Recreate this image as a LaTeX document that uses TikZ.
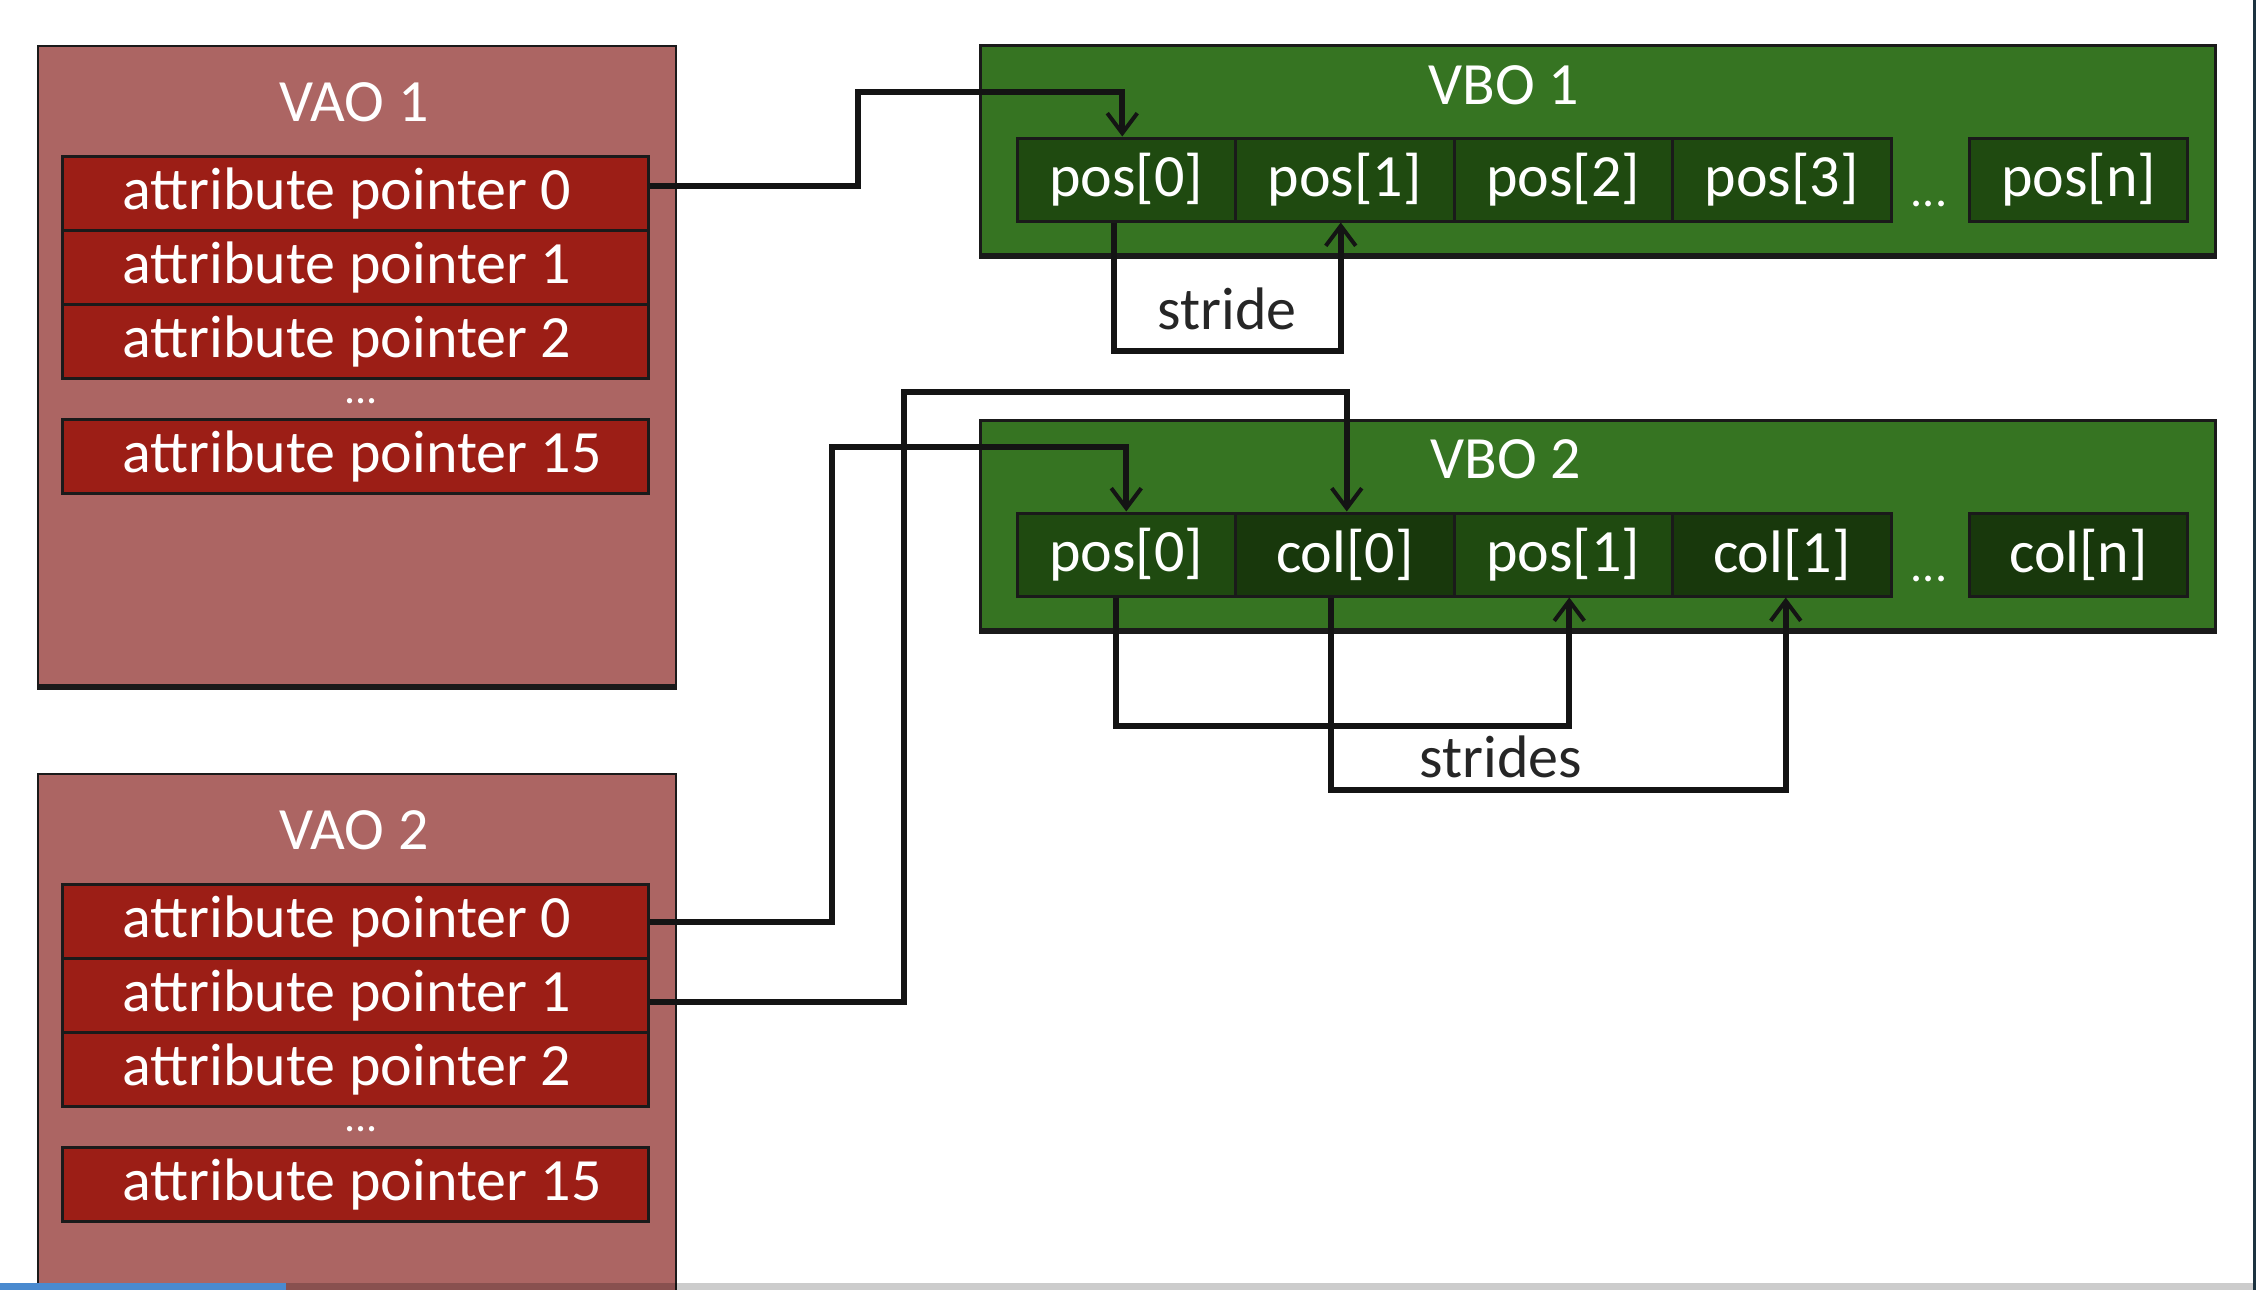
\documentclass[tikz,border=0pt]{standalone}
\usepackage{fontspec}
\setmainfont{Carlito}
\usetikzlibrary{arrows.meta,calc}
\definecolor{vaobg}{RGB}{172,101,99}
\definecolor{attrred}{RGB}{156,30,22}
\definecolor{vbogreen}{RGB}{54,116,34}
\definecolor{poscell}{RGB}{31,74,16}
\definecolor{colcell}{RGB}{24,56,12}
\definecolor{bord}{RGB}{26,26,26}
\definecolor{connc}{RGB}{20,20,20}
\definecolor{barblue}{RGB}{74,138,207}
\definecolor{edgedark}{RGB}{28,51,64}
\newcommand{\rowtext}[1]{\makebox[233pt][l]{#1}}
\begin{document}
\begin{tikzpicture}[x=0.5pt,y=-0.5pt,
  every node/.style={font=\fontsize{30}{36}\selectfont},
  vao/.style={draw=bord,line width=1pt,fill=vaobg,anchor=north west,minimum width=319pt,minimum height=320pt,inner sep=0pt},
  attr/.style={draw=bord,line width=1.5pt,fill=attrred,text=white,anchor=north west,minimum height=37pt,inner xsep=30pt,inner ysep=0pt},
  vbo/.style={draw=bord,line width=1.5pt,fill=vbogreen,anchor=north west,minimum width=617.5pt,minimum height=104.5pt,inner sep=0pt},
  cellbox/.style={draw=bord,line width=1.5pt,text=white,minimum width=109.25pt,minimum height=41.5pt,inner sep=0pt},
  poscellbox/.style={cellbox,fill=poscell},
  colcellbox/.style={cellbox,fill=colcell},
  title/.style={text=white},
  dotsw/.style={text=white,anchor=base,font=\fontsize{22}{26}\selectfont},
  dotsb/.style={text=white,anchor=base,font=\fontsize{24}{28}\selectfont},
  lbl/.style={text=black!85},
  conn/.style={draw=connc,line width=3pt},
  tip/.style={-{Straight Barb[length=10pt,width=15pt,line width=2pt]}},
  shade/.style={draw=bord,line width=3pt}
]
\clip (0,0) rectangle (2256,1290);
\fill[white] (0,0) rectangle (2256,1290);

% ---------- VAO 1 ----------
\node[vao] (vao1) at (37,45) {};
\draw[shade] (vao1.south west) -- (vao1.south east);
\node[title] (vao1t) at (354,102) {VAO 1};
\node[attr] (a10) at (61,155) {\rowtext{attribute pointer 0}};
\node[attr] (a11) at (61,229) {\rowtext{attribute pointer 1}};
\node[attr] (a12) at (61,303) {\rowtext{attribute pointer 2}};
\node[dotsw] (a1d) at (361,403) {...};
\node[attr] (a115) at (61,418) {\rowtext{attribute pointer 15}};

% ---------- VAO 2 ----------
\node[vao] (vao2) at (37,773) {};
\node[title] (vao2t) at (354,830) {VAO 2};
\node[attr] (a20) at (61,883) {\rowtext{attribute pointer 0}};
\node[attr] (a21) at (61,957) {\rowtext{attribute pointer 1}};
\node[attr] (a22) at (61,1031) {\rowtext{attribute pointer 2}};
\node[dotsw] (a2d) at (361,1131) {...};
\node[attr] (a215) at (61,1146) {\rowtext{attribute pointer 15}};

% ---------- VBO 1 ----------
\node[vbo] (vbo1) at (979,44) {};
\draw[shade] (vbo1.south west) -- (vbo1.south east);
\node[title] (vbo1t) at (1504,85) {VBO 1};
\node[poscellbox] (p10) at (1126.25,179.5) {pos[0]};
\node[poscellbox] (p11) at (1344.75,179.5) {pos[1]};
\node[poscellbox] (p12) at (1563.25,179.5) {pos[2]};
\node[poscellbox] (p13) at (1781.75,179.5) {pos[3]};
\node[dotsb] (p1d) at (1929,206) {...};
\node[poscellbox] (p1n) at (2078.5,179.5) {pos[n]};

% ---------- VBO 2 ----------
\node[vbo] (vbo2) at (979,419) {};
\draw[shade] (vbo2.south west) -- (vbo2.south east);
\node[title] (vbo2t) at (1506,459) {VBO 2};
\node[poscellbox] (p20) at (1126.25,554.5) {pos[0]};
\node[colcellbox] (c20) at (1344.75,554.5) {col[0]};
\node[poscellbox] (p21) at (1563.25,554.5) {pos[1]};
\node[colcellbox] (c21) at (1781.75,554.5) {col[1]};
\node[dotsb] (p2d) at (1929,581) {...};
\node[colcellbox] (c2n) at (2078.5,554.5) {col[n]};

% ---------- connectors ----------
\draw[conn,tip] ([yshift=4pt]a10.east) -| (858,92) -| ([xshift=-2pt]p10.north);
\draw[conn,tip] (a20.east) -| (832,447) -| (p20.north);
\draw[conn,tip] ([yshift=-3pt]a21.east) -| (904,392) -| ([xshift=1pt]c20.north);

% strides
\draw[conn,tip] ([xshift=-6pt]p10.south) -- ++(0,128) -| ([xshift=-2pt]p11.south);
\node[lbl] (strd) at (1227,309) {stride};
\draw[conn,tip] ([xshift=-5pt]p20.south) -- ++(0,128) -| ([xshift=3pt]p21.south);
\draw[conn,tip] ([xshift=-7pt]c20.south) -- ++(0,192) -| ([xshift=2pt]c21.south);
\node[lbl] (strds) at (1501,757) {strides};

% ---------- window edges ----------
\fill[black,opacity=0.2] (0,1283) rectangle (2256,1290);
\fill[barblue] (0,1283) rectangle (286,1290);
\fill[edgedark] (2253,0) rectangle (2256,1290);
\end{tikzpicture}
\end{document}
